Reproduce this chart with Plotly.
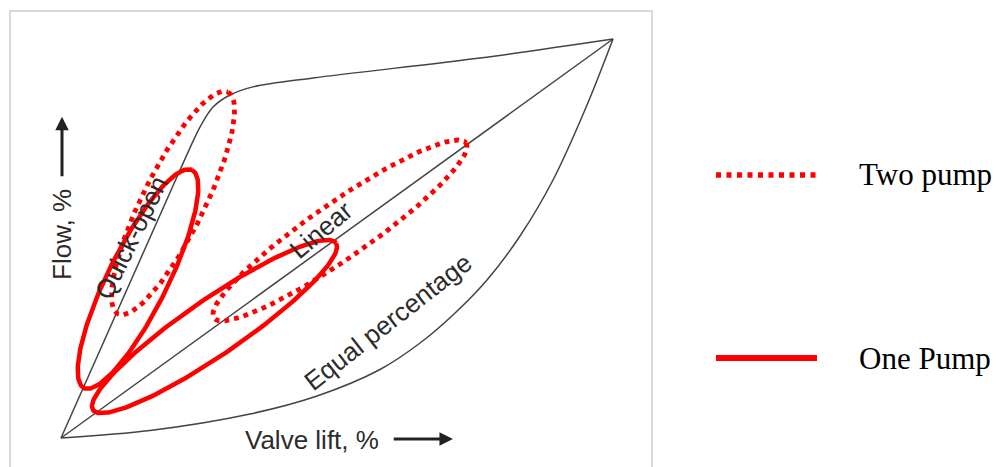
import numpy as np
import plotly.graph_objects as go

# ---- valve characteristic curves (valve lift %, flow %) ----
quick_open_x = [0, 21.56, 25.18, 27.54, 30.62, 34.78, 45.65, 75.91, 100]
quick_open_y = [0, 67.17, 77.94, 82.96, 85.96, 88.0, 90.23, 95.24, 100]

linear_x = [0, 100]
linear_y = [0, 100]

equal_pct_x = [0, 16.12, 34.24, 46.38, 57.79, 65.04, 71.01, 77.17, 83.15, 89.13, 95.29, 100]
equal_pct_y = [0, 1.88, 6.02, 10.53, 17.17, 23.81, 30.83, 39.60, 50.63, 64.66, 83.46, 100]

# ---- operating-region ellipses: centre, half-major vector, half-minor vector (data units) ----
two_pump_centers = [(20.29, 58.90), (50.54, 52.01)]
two_pump_major = [(9.96, 27.82), (22.83, 21.93)]
two_pump_minor = [(5.03, -3.46), (2.89, -5.76)]

one_pump_centers = [(13.95, 39.85), (27.81, 27.94)]
one_pump_major = [(9.78, 27.32), (22.01, 20.93)]
one_pump_minor = [(4.87, -3.33), (2.87, -5.78)]

curve_labels = ["Quick-open", "Linear", "Equal percentage"]
curve_label_x = [12.68, 47.1, 59.2]
curve_label_y = [50.13, 52.1, 29.1]
curve_label_angle = [-64, -40, -38]

legend_names = ["Two pump", "One Pump"]

W, H = 1007, 467
RED = "#ff0000"
CURVE = "#444444"
TXT = "#2c2c2c"
SANS = "Liberation Sans, Arial"


def ellipse(c, a, b, n=240):
    t = np.linspace(0, 2 * np.pi, n)
    x = c[0] + np.cos(t) * a[0] + np.sin(t) * b[0]
    y = c[1] + np.cos(t) * a[1] + np.sin(t) * b[1]
    return x, y


fig = go.Figure()

for xs, ys in [(quick_open_x, quick_open_y), (linear_x, linear_y), (equal_pct_x, equal_pct_y)]:
    fig.add_trace(go.Scatter(x=xs, y=ys, mode="lines",
                             line=dict(color=CURVE, width=1.5, shape="spline", smoothing=0.9),
                             hoverinfo="skip", showlegend=False))

for c, a, b in zip(two_pump_centers, two_pump_major, two_pump_minor):
    ex, ey = ellipse(c, a, b)
    fig.add_trace(go.Scatter(x=ex, y=ey, mode="lines",
                             line=dict(color=RED, width=4.8, dash="4.8px,5px"),
                             hoverinfo="skip", showlegend=False))

for c, a, b in zip(one_pump_centers, one_pump_major, one_pump_minor):
    ex, ey = ellipse(c, a, b)
    fig.add_trace(go.Scatter(x=ex, y=ey, mode="lines",
                             line=dict(color=RED, width=4.5),
                             hoverinfo="skip", showlegend=False))

annotations = []
for txt, x, y, ang in zip(curve_labels, curve_label_x, curve_label_y, curve_label_angle):
    annotations.append(dict(x=x, y=y, xref="x", yref="y", text=txt, showarrow=False,
                            textangle=ang, font=dict(family=SANS, size=26, color=TXT)))

# axis titles drawn inside the diagram
annotations.append(dict(x=0.18, y=50.9, xref="x", yref="y", text="Flow, %", showarrow=False,
                        textangle=-90, font=dict(family=SANS, size=26, color=TXT)))
annotations.append(dict(x=45.4, y=-0.5, xref="x", yref="y", text="Valve lift, %", showarrow=False,
                        font=dict(family=SANS, size=26, color=TXT)))
# arrows
annotations.append(dict(x=0.18, y=80.5, ax=0.18, ay=65.2, xref="x", yref="y", axref="x", ayref="y",
                        text="", showarrow=True, arrowhead=2, arrowsize=0.9, arrowwidth=3, arrowcolor="#222"))
annotations.append(dict(x=71.0, y=-0.25, ax=60.0, ay=-0.25, xref="x", yref="y", axref="x", ayref="y",
                        text="", showarrow=True, arrowhead=2, arrowsize=0.9, arrowwidth=3, arrowcolor="#222"))

# manual legend
legend_y_px = [175, 358]
legend_dash = ["5px,5.5px", "solid"]
legend_width = [5.5, 6]
shapes = []
for name, ypx, dash, lw in zip(legend_names, legend_y_px, legend_dash, legend_width):
    yp = 1 - ypx / H
    shapes.append(dict(type="line", xref="paper", yref="paper", x0=716 / W, x1=817 / W, y0=yp, y1=yp,
                       line=dict(color=RED, width=lw, dash=dash)))
    annotations.append(dict(x=857 / W, y=yp, xref="paper", yref="paper", text=name, showarrow=False,
                            xanchor="left", yanchor="middle",
                            font=dict(family="Liberation Serif, Times New Roman", size=31, color="#000")))

fig.update_layout(
    width=W, height=H, autosize=False,
    margin=dict(l=0, r=0, t=0, b=0),
    paper_bgcolor="white", plot_bgcolor="white",
    showlegend=False,
    annotations=annotations, shapes=shapes,
    xaxis=dict(domain=[11 / W, 651 / W], range=[-9.058, 106.88], showgrid=False, zeroline=False,
               showticklabels=False, ticks="", side="top", showline=True, linecolor="#dadada",
               linewidth=2, fixedrange=True),
    yaxis=dict(domain=[0, (H - 12) / H], range=[-7.27, 106.77], showgrid=False, zeroline=False,
               showticklabels=False, ticks="", showline=True, mirror=True, linecolor="#dadada",
               linewidth=2, fixedrange=True),
)

fig.write_html("out.html", config={"displayModeBar": False},
               post_script="document.body.style.margin='0';document.body.style.overflow='hidden';")
